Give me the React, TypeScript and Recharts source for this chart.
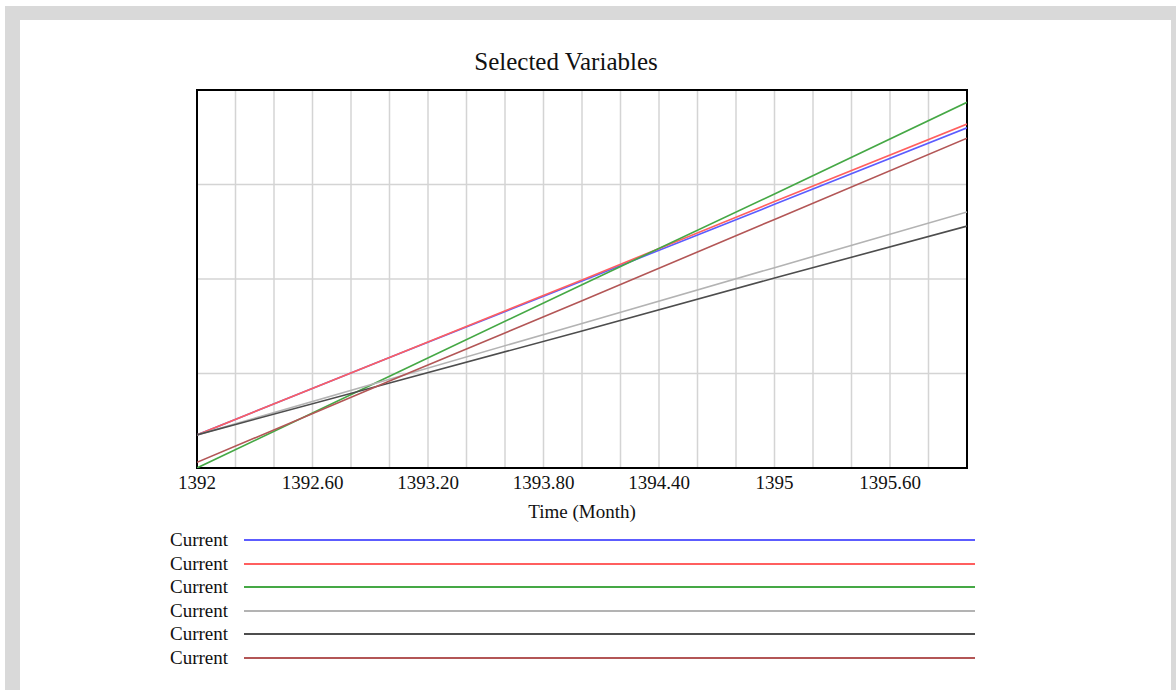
import React from 'react';
import { LineChart, Line, XAxis, YAxis, CartesianGrid, ReferenceArea, Legend } from 'recharts';

const months = [1392, 1393, 1394, 1395, 1396];
const blueSeries = [0.35, 1.17, 1.98, 2.79, 3.6];
const redSeries = [0.35, 1.17, 1.99, 2.82, 3.64];
const greenSeries = [0.0, 0.97, 1.94, 2.9, 3.87];
const graySeries = [0.35, 0.94, 1.53, 2.12, 2.71];
const blackSeries = [0.35, 0.9, 1.45, 2.01, 2.56];
const darkRedSeries = [0.06, 0.92, 1.77, 2.63, 3.49];

const xTicks = [1392, 1392.6, 1393.2, 1393.8, 1394.4, 1395, 1395.6];
const xTickLabels = ['1392', '1392.60', '1393.20', '1393.80', '1394.40', '1395', '1395.60'];
const gridX = [1392.2, 1392.4, 1392.6, 1392.8, 1393, 1393.2, 1393.4, 1393.6, 1393.8, 1394, 1394.2, 1394.4, 1394.6, 1394.8, 1395, 1395.2, 1395.4, 1395.6, 1395.8];
const gridY = [1, 2, 3];
const seriesNames = ['Current', 'Current', 'Current', 'Current', 'Current', 'Current'];

const seriesDefs = [
  { key: 'blue', values: blueSeries, color: '#5c5cff' },
  { key: 'red', values: redSeries, color: '#ff5f5f' },
  { key: 'green', values: greenSeries, color: '#45a845' },
  { key: 'gray', values: graySeries, color: '#b3b3b3' },
  { key: 'black', values: blackSeries, color: '#4d4d4d' },
  { key: 'darkred', values: darkRedSeries, color: '#b35656' },
];

const data = months.map((m, i) => {
  const row: Record<string, number> = { month: m };
  seriesDefs.forEach((s) => {
    row[s.key] = s.values[i];
  });
  return row;
});

const serif = '"Liberation Serif", "Times New Roman", serif';

const renderLegend = (props: any) => {
  const payload = props.payload || [];
  return (
    <div style={{ position: 'relative', width: 1176, height: 150 }}>
      {payload.map((entry: any, i: number) => (
        <div
          key={i}
          style={{
            position: 'absolute',
            left: 0,
            top: i * 23.6,
            width: 1176,
            height: 24,
          }}
        >
          <span
            style={{
              position: 'absolute',
              left: 170,
              top: 0,
              lineHeight: '24px',
              fontFamily: serif,
              fontSize: 19,
              color: '#111',
            }}
          >
            {entry.value}
          </span>
          <div
            style={{
              position: 'absolute',
              left: 244,
              top: 11,
              width: 731,
              height: 2,
              background: entry.color,
            }}
          />
        </div>
      ))}
    </div>
  );
};

export default function App() {
  return (
    <div style={{ position: 'absolute', left: 0, top: 0, width: 1176, height: 690, background: '#fff', overflow: 'hidden' }}>
      <div style={{ position: 'absolute', left: 5, top: 6, width: 15, height: 684, background: '#d9d9d9' }} />
      <div style={{ position: 'absolute', left: 5, top: 6, width: 1171, height: 14, background: '#d9d9d9' }} />
      <div style={{ position: 'absolute', left: 1171, top: 6, width: 5, height: 684, background: '#d9d9d9' }} />
      <div
        style={{
          position: 'absolute',
          left: 0,
          top: 48,
          width: 1132,
          textAlign: 'center',
          fontFamily: serif,
          fontSize: 25,
          lineHeight: '28px',
          color: '#111',
        }}
      >
        Selected Variables
      </div>
      <div style={{ position: 'absolute', left: 0, top: 0 }}>
        <LineChart width={1176} height={690} data={data} margin={{ top: 90, left: 197, right: 209, bottom: 167 }}>
          <CartesianGrid
            stroke="#d4d4d4"
            strokeWidth={1.5}
            verticalValues={gridX}
            horizontalValues={gridY}
            fill="none"
          />
          <XAxis
            dataKey="month"
            type="number"
            domain={[1392, 1396]}
            ticks={xTicks}
            tickFormatter={(v: number) => xTickLabels[xTicks.indexOf(v)] ?? String(v)}
            axisLine={false}
            tickLine={false}
            height={55}
            interval={0}
            allowDataOverflow
            tick={{ fontFamily: serif, fontSize: 19, fill: '#111' }}
            label={{ value: 'Time (Month)', position: 'insideBottom', offset: 5, style: { fontFamily: serif, fontSize: 19, fill: '#111' } }}
          />
          <YAxis type="number" domain={[0, 4]} hide allowDataOverflow />
          {seriesDefs.map((s, i) => (
            <Line
              key={s.key}
              type="linear"
              dataKey={s.key}
              name={seriesNames[i]}
              stroke={s.color}
              strokeWidth={1.6}
              dot={false}
              activeDot={false}
              isAnimationActive={false}
            />
          ))}
          <ReferenceArea x1={1392} x2={1396} y1={0} y2={4} fill="none" stroke="#000" strokeWidth={2} ifOverflow="visible" />
          <Legend
            content={renderLegend}
            layout="horizontal"
            verticalAlign="middle"
            align="center"
            wrapperStyle={{ left: 0, top: 528, width: 1176, height: 150 }}
          />
        </LineChart>
      </div>
    </div>
  );
}
